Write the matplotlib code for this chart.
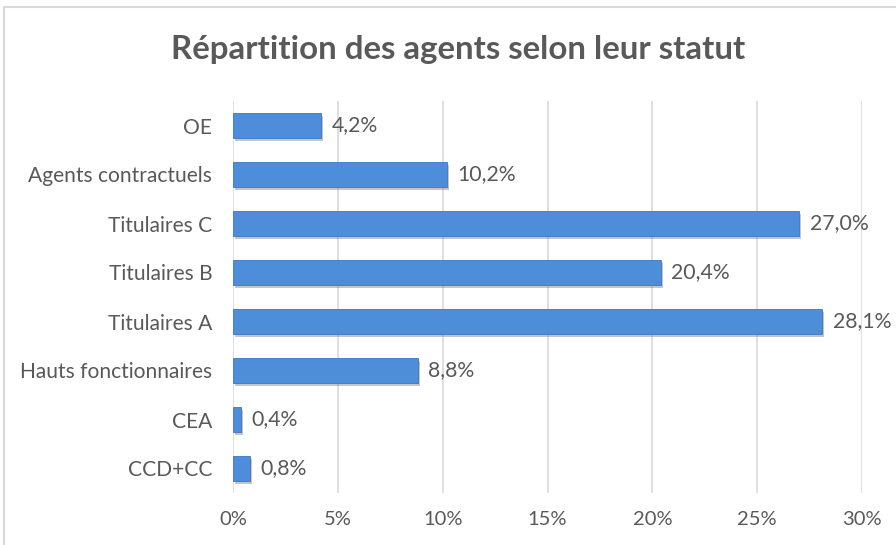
import matplotlib
matplotlib.use("Agg")
import matplotlib.pyplot as plt
import matplotlib.patheffects as pe
from matplotlib.patches import Rectangle

categories = ["CCD+CC", "CEA", "Hauts fonctionnaires", "Titulaires A",
              "Titulaires B", "Titulaires C", "Agents contractuels", "OE"]
values = [0.8, 0.4, 8.8, 28.1, 20.4, 27.0, 10.2, 4.2]
labels = ["0,8%", "0,4%", "8,8%", "28,1%", "20,4%", "27,0%", "10,2%", "4,2%"]
xticks = [0, 5, 10, 15, 20, 25, 30]
xticklabels = ["0%", "5%", "10%", "15%", "20%", "25%", "30%"]
title = "Répartition des agents selon leur statut"

plt.rcParams['font.family'] = ['Lato', 'DejaVu Sans']
gray = "#595959"

fig = plt.figure(figsize=(8.96, 5.45), dpi=100)
# chart border (top and left visible)
fig.add_artist(Rectangle((4/896, -0.1), 1.2, 1 - 7/545 + 0.1, transform=fig.transFigure,
                         fill=False, edgecolor="#D9D9D9", linewidth=1.5))

ax = fig.add_axes([233/896, 1 - 493/545, (862 - 233)/896, (493 - 101)/545])
y = list(range(len(categories)))
bars = ax.barh(y, values, height=0.5, color="#4D8DDA", edgecolor="#3C78C2", linewidth=0.6,
               zorder=3)
for b in bars:
    b.set_path_effects([pe.SimplePatchShadow(offset=(1.5, -2), shadow_rgbFace="#7f7f7f", alpha=0.45),
                        pe.Normal()])
for yi, v, lab in zip(y, values, labels):
    ax.text(v + 0.5, yi, lab, va="center", ha="left", fontsize=15.3, color=gray)

ax.set_xlim(0, 30)
ax.set_ylim(-0.5, len(categories) - 0.5)
ax.set_xticks(xticks)
ax.set_xticklabels(xticklabels, fontsize=14.5, color=gray)
ax.set_yticks(y)
ax.set_yticklabels(categories, fontsize=15.1, color=gray)
ax.tick_params(axis="both", length=0)
ax.tick_params(axis="x", pad=13)
ax.tick_params(axis="y", pad=15)
ax.grid(axis="x", color="#D9D9D9", linewidth=1.2, zorder=0)
for s in ax.spines.values():
    s.set_visible(False)

fig.text(458/896, 1 - 50/545, title, ha="center", va="center", fontsize=23.8,
         fontweight="bold", color=gray)

fig.savefig("out.png", dpi=100)
